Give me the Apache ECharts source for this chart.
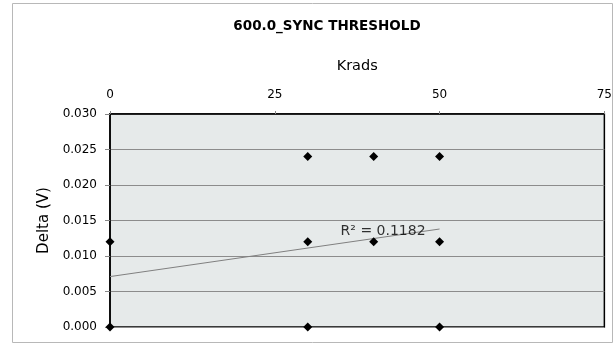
<!DOCTYPE html>
<html><head><meta charset="utf-8">
<script src="https://cdn.jsdelivr.net/npm/echarts@6/dist/echarts.min.js"></script>
<style>html,body{margin:0;padding:0;background:#fff}#c{width:615px;height:347px}</style>
</head><body><div id="c"></div>
<script>
var xTicks = [0, 25, 50, 75];
var yTicks = ['0.000','0.005','0.010','0.015','0.020','0.025','0.030'];
var kradsValues = [0, 0, 30, 30, 30, 40, 40, 50, 50, 50];
var deltaValues = [0.012, 0.000, 0.024, 0.012, 0.000, 0.024, 0.012, 0.024, 0.012, 0.000];
var trendX = [0, 50];
var trendY = [0.0071, 0.0138];
var r2Text = 'R² = 0.1182';

var pts = kradsValues.map(function(x, i){ return [x, deltaValues[i]]; });
var trend = trendX.map(function(x, i){ return [x, trendY[i]]; });
var font = 'DejaVu Sans, Liberation Sans, sans-serif';
var chart = echarts.init(document.getElementById('c'));
chart.setOption({
  animation: false,
  backgroundColor: '#fff',
  graphic: [
    {type:'rect', shape:{x:12.5,y:3.5,width:600,height:339}, style:{fill:'none', stroke:'#b8b8b8', lineWidth:1}, z:-1}
  ],
  title: {text:'600.0_SYNC THRESHOLD', left:322, top:14, textAlign:'center',
    textStyle:{fontFamily:font, fontSize:13.5, fontWeight:'bold', color:'#000'}},
  grid: {left:110, right:8, top:114, bottom:20, show:true, backgroundColor:'#e6eaea', borderColor:'#000', borderWidth:1.5},
  xAxis: {type:'value', position:'top', min:0, max:75, interval:25,
    name:'Krads', nameLocation:'middle', nameGap:40, nameTextStyle:{fontFamily:font, fontSize:14.5, color:'#000'},
    axisLine:{show:true, onZero:false, lineStyle:{color:'#000', width:1.5}},
    axisTick:{show:true, length:3, lineStyle:{color:'#888'}},
    axisLabel:{fontFamily:font, fontSize:12, color:'#000', margin:13},
    splitLine:{show:false}},
  yAxis: {type:'value', min:0, max:0.03, interval:0.005,
    name:'Delta (V)', nameLocation:'middle', nameGap:56, nameTextStyle:{fontFamily:font, fontSize:15, color:'#000'},
    axisLine:{show:true, onZero:false, lineStyle:{color:'#000', width:1.5}},
    axisTick:{show:true, length:5, lineStyle:{color:'#888'}},
    axisLabel:{fontFamily:font, fontSize:12, color:'#000', margin:13, formatter:function(v){ return yTicks[Math.round(v/0.005)]; }},
    splitLine:{show:true, lineStyle:{color:'#8c8c8c', width:1}}},
  series: [
    {type:'line', data:trend, showSymbol:false, symbol:'none', lineStyle:{color:'#808080', width:1}, z:2},
    {type:'scatter', data:[trend[trend.length-1]], symbolSize:0, z:4, silent:true,
     label:{show:true, formatter:r2Text, position:'left', distance:14, offset:[0,2], fontFamily:font, fontSize:14, color:'#000'}},
    {type:'scatter', data:pts, symbol:'diamond', symbolSize:9, itemStyle:{color:'#000', opacity:1}, z:3, clip:false}
  ]
});
</script></body></html>
